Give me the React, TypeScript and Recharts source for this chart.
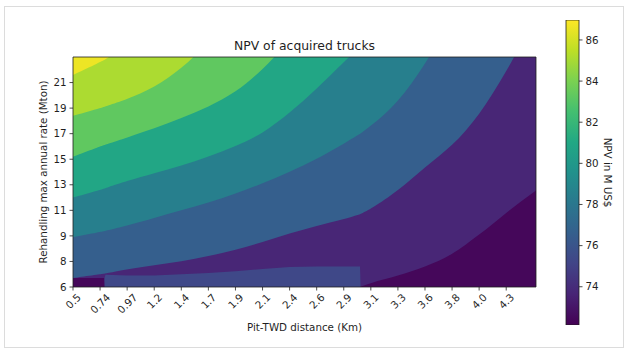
import React from "react";
import { Area, Bar, BarChart, ComposedChart, XAxis, YAxis } from "recharts";

const distanceLabels = ["0.5", "0.74", "0.97", "1.2", "1.4", "1.7", "1.9", "2.1", "2.4", "2.6", "2.9", "3.1", "3.3", "3.6", "3.8", "4.0", "4.3"];
const rateLabels = ["6", "8", "9", "11", "13", "15", "17", "19", "21"];

// colorbar span and ticks (M US$)
const npvMin = 72.14;
const npvMax = 86.97;
const npvTicks = [74, 76, 78, 80, 82, 84, 86];

// columns where the band edges were traced, in distance-tick steps
const colPos = [0, 1, 1.15, 1.2, 2, 3, 4, 5, 6, 7, 8, 9, 10, 10.6, 10.65, 11, 12, 13, 14, 15, 16, 17, 17.2];

// NPV of the regions under the blue band (M US$)
const npvDarkest = 72.4;
const npvMid = 73.7;
const npvLow = 75.3;

// NPV of the bands that run up to the top edge, lowest first
const bandNpv = [76.6, 78.5, 80.9, 83.3, 85.1, 86.6];

// lower edge of each of those bands, in rate-tick steps (past the top once it leaves the plot)
const edgeBlue = [0.35, 0.5, 0.52, 0.53, 0.7, 0.85, 1.0, 1.2, 1.45, 1.75, 2.1, 2.4, 2.65, 2.85, 2.87, 3.05, 3.75, 4.7, 5.5, 6.7, 8.4, 10.4, 10.8];
const edgeTeal = [1.95, 2.15, 2.18, 2.2, 2.4, 2.7, 3.0, 3.3, 3.65, 4.05, 4.5, 5.0, 5.6, 6.0, 6.03, 6.3, 7.2, 8.7, 10.5];
const edgeSea = [3.5, 3.8, 3.85, 3.87, 4.15, 4.45, 4.75, 5.1, 5.5, 6.0, 6.8, 7.75, 8.8, 9.4, 9.45, 9.9];
const edgeGreen = [5.1, 5.5, 5.55, 5.57, 5.85, 6.2, 6.6, 7.05, 7.6, 8.5, 9.6];
const edgeLime = [6.7, 7.0, 7.05, 7.07, 7.35, 7.8, 8.55, 9.5];
const edgeYellow = [8.3, 8.8, 8.88, 8.9, 9.5];
const bandEdges = [edgeBlue, edgeTeal, edgeSea, edgeGreen, edgeLime, edgeYellow];

// upper edge of the bluish pocket along the bottom
const lowTop = [0.3, 0.3, 0.3, 0.48, 0.45, 0.45, 0.5, 0.55, 0.62, 0.7, 0.78, 0.8, 0.8, 0.8];
// upper edge of the darkest regions (bottom-left corner and bottom-right)
const darkTop = [0.35, 0.35, 0.35, -1, -1, -1, -1, -1, -1, -1, -1, -1, -1, 0, 0.02, 0.15, 0.45, 0.8, 1.3, 2.05, 2.9, 3.7, 3.85];

const TOP = 9;
const X_MAX = 17.1;
const ABOVE = 12;
const BELOW = -1;
const INK = "#1f1f1f";
const FS = 10.3;

const viridisStops = ["#440154", "#482475", "#414487", "#355f8d", "#2a788e", "#21918c", "#22a884", "#44bf70", "#7ad151", "#bddf26", "#fde725"];

function hexToRgb(h: string) {
  return [1, 3, 5].map((i) => parseInt(h.slice(i, i + 2), 16));
}

function viridis(t: number) {
  const c = Math.min(1, Math.max(0, t)) * (viridisStops.length - 1);
  const i = Math.min(viridisStops.length - 2, Math.floor(c));
  const f = c - i;
  const a = hexToRgb(viridisStops[i]);
  const b = hexToRgb(viridisStops[i + 1]);
  const rgb = a.map((v, k) => Math.round(v + (b[k] - v) * f));
  return `rgb(${rgb.join(",")})`;
}

const npvColor = (v: number) => viridis((v - npvMin) / (npvMax - npvMin));

const pick = (arr: number[], i: number, fill: number) => (i < arr.length ? arr[i] : fill);

const rows = colPos.map((u, i) => {
  const row: Record<string, any> = {
    u,
    mid: [0, TOP],
    low: [0, pick(lowTop, i, BELOW)],
    dark: [0, darkTop[i]],
  };
  bandEdges.forEach((edge, k) => {
    row[`band${k}`] = [pick(edge, i, ABOVE), TOP];
  });
  return row;
});

const colorbarRow = [{ name: "npv", span: [npvMin, npvMax] }];

function DistanceTick(props: any) {
  const { x, y, payload } = props;
  const text = distanceLabels[payload.value] ?? "";
  const w = [...text].reduce((s, c) => s + (c === "." ? 0.318 : 0.636) * FS, 0);
  const h = FS * 1.15;
  const cy = y + ((w + h) * Math.SQRT1_2) / 2;
  return (
    <text x={x} y={cy} textAnchor="middle" dominantBaseline="central" transform={`rotate(-45 ${x} ${cy})`} fontSize={FS} fill={INK}>
      {text}
    </text>
  );
}

export default function App() {
  const axisLine = { stroke: INK, strokeWidth: 0.8 };
  return (
    <div
      style={{
        position: "absolute",
        left: 0,
        top: 0,
        width: 627,
        height: 350,
        overflow: "hidden",
        background: "#fff",
        fontFamily: '"DejaVu Sans", sans-serif',
      }}
    >
      <div style={{ position: "absolute", left: 4, top: 6, width: 620, height: 342, boxSizing: "border-box", border: "1px solid #dcdcdc" }} />
      <div style={{ position: "absolute", left: 0, top: 0 }}>
        <ComposedChart width={627} height={350} data={rows} margin={{ top: 35, right: 90, bottom: 18, left: 13 }}>
          <XAxis
            dataKey="u"
            type="number"
            domain={[0, X_MAX]}
            allowDataOverflow
            ticks={distanceLabels.map((_, i) => i)}
            interval={0}
            tick={(p: any) => <DistanceTick {...p} />}
            tickSize={3.5}
            tickMargin={0.5}
            height={45}
            axisLine={axisLine}
            tickLine={axisLine}
            label={{ value: "Pit-TWD distance (Km)", position: "insideBottom", offset: 1, fontSize: FS, fill: INK }}
          />
          <XAxis
            xAxisId="top"
            orientation="top"
            dataKey="u"
            type="number"
            domain={[0, X_MAX]}
            allowDataOverflow
            height={22}
            tick={false}
            tickLine={false}
            axisLine={axisLine}
            label={{ value: "NPV of acquired trucks", position: "center", fontSize: 12.4, fill: INK }}
          />
          <YAxis
            type="number"
            domain={[0, TOP]}
            allowDataOverflow
            ticks={rateLabels.map((_, i) => i)}
            interval={0}
            tickFormatter={(v: number) => rateLabels[v]}
            width={60}
            tickSize={3.5}
            tickMargin={3}
            tick={{ fontSize: FS, fill: INK }}
            axisLine={axisLine}
            tickLine={axisLine}
            label={{ value: "Rehandling max annual rate (Mton)", angle: -90, position: "center", fontSize: FS, fill: INK }}
          />
          <YAxis yAxisId="frame" orientation="right" width={1} tick={false} tickLine={false} axisLine={axisLine} />
          <Area dataKey="mid" type="linear" fill={npvColor(npvMid)} fillOpacity={1} stroke="none" dot={false} activeDot={false} isAnimationActive={false} />
          <Area dataKey="low" type="linear" fill={npvColor(npvLow)} fillOpacity={1} stroke="none" dot={false} activeDot={false} isAnimationActive={false} />
          <Area dataKey="dark" type="monotone" fill={npvColor(npvDarkest)} fillOpacity={1} stroke="none" dot={false} activeDot={false} isAnimationActive={false} />
          {bandNpv.map((v, k) => (
            <Area
              key={k}
              dataKey={`band${k}`}
              type="basis"
              fill={npvColor(v)}
              fillOpacity={1}
              stroke="none"
              dot={false}
              activeDot={false}
              isAnimationActive={false}
            />
          ))}
        </ComposedChart>
      </div>
      <div style={{ position: "absolute", left: 0, top: 0 }}>
        <BarChart width={640} height={350} data={colorbarRow} margin={{ top: 20, right: 3, bottom: 25, left: 566 }} barCategoryGap={0}>
          <defs>
            <linearGradient id="viridisBar" x1="0" y1="1" x2="0" y2="0">
              {viridisStops.map((c, i) => (
                <stop key={i} offset={i / (viridisStops.length - 1)} stopColor={c} />
              ))}
            </linearGradient>
          </defs>
          <XAxis dataKey="name" hide />
          <YAxis
            orientation="right"
            type="number"
            domain={[npvMin, npvMax]}
            allowDataOverflow
            ticks={npvTicks}
            interval={0}
            width={58}
            tickSize={3.5}
            tickMargin={3}
            tick={{ fontSize: FS, fill: INK }}
            axisLine={false}
            tickLine={axisLine}
            label={{ value: "NPV in M US$", angle: 90, position: "center", fontSize: FS, fill: INK }}
          />
          <Bar dataKey="span" fill="url(#viridisBar)" stroke={INK} strokeWidth={0.8} isAnimationActive={false} />
        </BarChart>
      </div>
    </div>
  );
}
